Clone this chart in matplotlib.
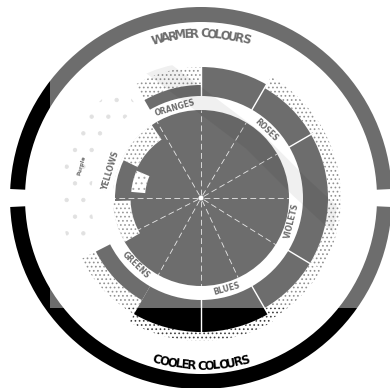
import numpy as np
import matplotlib
matplotlib.use("Agg")
import matplotlib.pyplot as plt
from matplotlib.patches import Wedge, Rectangle, Circle
from matplotlib.font_manager import FontProperties
from matplotlib.textpath import text_to_path

plt.rcParams["hatch.linewidth"] = 0.7

CX, CY = 201, 198

# hue families written in the white ring (compass angle, clockwise from top)
families = ["ORANGES", "ROSES", "VIOLETS", "BLUES", "GREENS", "YELLOWS"]
family_angles = [344, 44, 104, 164, 224, 287]

# outer band segments: start/end angle, solid outer radius, speckled outer radius
band_start = [330, 0, 30, 150, 210]
band_end = [360, 30, 150, 210, 243]
band_solid = [113, 131, 127, 134, 118]
band_speck = [131, 131, 140, 143, 134]

band_dividers = [30, 60, 121, 150, 180, 0]
spokes = [0, 31, 60, 90, 122, 155, 180, 209, 243, 270, 330]

top_title = "WARMER COLOURS"
bottom_title = "COOLER COLOURS"

# faint stripe left by the scan watermark
watermark_x = [143, 200, 253, 300, 350, 390]
watermark_y = [57, 100, 140, 187, 233, 267]


def wedge(c1, c2, r_out, width, **kw):
    return Wedge((CX, CY), r_out, c1 - 90, c2 - 90, width=width, **kw)


def polar(c, r):
    a = np.radians(c)
    return CX + r * np.sin(a), CY - r * np.cos(a)


def arc_text(ax, s, r, c_mid, span, top=True, size=8):
    prop = FontProperties(family="Liberation Sans Narrow", weight="bold", size=size)
    widths = [max(text_to_path.get_text_width_height_descent(ch, prop, ismath=False)[0], 2.5)
              for ch in s]
    widths = np.array(widths)
    total = widths.sum()
    offs = (np.cumsum(widths) - widths / 2) / total * span - span / 2
    for ch, o in zip(s, offs):
        c = c_mid + o if top else c_mid - o
        x, y = polar(c, r)
        rot = -c if top else 180 - c
        ax.text(x, y, ch, fontproperties=prop, rotation=rot, rotation_mode="anchor",
                ha="center", va="center", color="black", zorder=5)


fig = plt.figure(figsize=(3.9, 3.88), dpi=100)
ax = fig.add_axes([0, 0, 1, 1])
ax.set_xlim(0, 390)
ax.set_ylim(388, 0)
ax.axis("off")

# outer ring with gaps at left and right
ax.add_patch(wedge(92.7, 267.3, 191, 15, color="black", lw=0))
ax.add_patch(wedge(272.7, 447.3, 191, 15, color="black", lw=0))

# outer band
for c1, c2, rs, rp in zip(band_start, band_end, band_solid, band_speck):
    ax.add_patch(wedge(c1, c2, rs, rs - 102, color="black", lw=0))
    if rp > rs:
        ax.add_patch(wedge(c1, c2, rp, rp - rs, facecolor="none", edgecolor="0.25",
                           hatch="....", lw=0))
# faint speckle on the left side
ax.add_patch(wedge(250, 325, 140, 30, facecolor="none", edgecolor="0.8", hatch=".", lw=0))

for c in band_dividers:
    x0, y0 = polar(c, 100)
    x1, y1 = polar(c, 136)
    ax.plot([x0, x1], [y0, y1], color="white", lw=1.0, zorder=2)

# inner disk
ax.add_patch(Circle((CX, CY), 88, color="black", lw=0))
# lighter yellow sector on the left
ax.add_patch(wedge(240, 326, 88.5, 18, color="white", lw=0))
ax.add_patch(wedge(240, 268, 88, 17, facecolor="none", edgecolor="0.3", hatch="....", lw=0))
ax.add_patch(wedge(296, 326, 88, 17, facecolor="none", edgecolor="0.3", hatch="....", lw=0))
ax.add_patch(wedge(268, 296, 86, 16, color="black", lw=0))
ax.add_patch(wedge(275, 293, 70, 14, color="white", lw=0))
ax.add_patch(wedge(275, 293, 70, 14, facecolor="none", edgecolor="0.4", hatch="...", lw=0))

for c in spokes:
    x0, y0 = polar(c, 3)
    x1, y1 = polar(c, 88)
    ax.plot([x0, x1], [y0, y1], color="white", lw=0.6, alpha=0.85,
            ls=(0, (7, 4)), zorder=2)
ax.add_patch(Circle((CX, CY), 2.5, color="white", lw=0, zorder=3))

# labels in the white ring
for name, c in zip(families, family_angles):
    x, y = polar(c, 94)
    rot = -c if (c < 90 or c > 270) else 180 - c
    ax.text(x, y, name, rotation=rot, rotation_mode="anchor", ha="center", va="center",
            fontsize=5.5, fontweight="bold", color="black", zorder=5)

x, y = polar(285, 124)
ax.text(x, y, "Purple", rotation=75, rotation_mode="anchor", ha="center", va="center",
        fontsize=4, fontweight="bold", color="black")

arc_text(ax, top_title, 164, 0, 34, top=True, size=8.5)
arc_text(ax, bottom_title, 168, 180, 33, top=False, size=8.5)

# lightened scan region
ax.add_patch(Rectangle((50, 0), 340, 308, facecolor="white", alpha=0.43, lw=0, zorder=10))
stripe, = ax.plot(watermark_x, watermark_y, color="black", alpha=0.06, lw=16,
                  solid_capstyle="butt", zorder=11)
clip = Circle((CX, CY), 136, transform=ax.transData)
stripe.set_clip_path(clip)

fig.savefig("out.png", dpi=100)
